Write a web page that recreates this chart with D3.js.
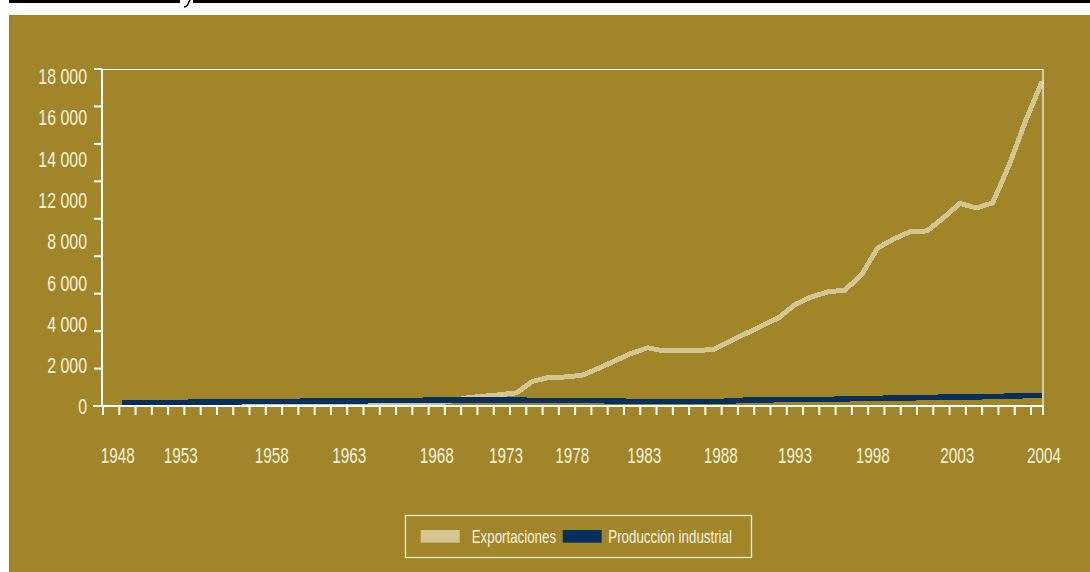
<!DOCTYPE html>
<html><head><meta charset="utf-8">
<script src="https://cdn.jsdelivr.net/npm/d3@7"></script>
<style>
html,body{margin:0;padding:0;background:#fff;}
svg{display:block;}
text{font-family:"Liberation Sans",Arial,sans-serif;fill:#f5f0de;}
</style></head><body>
<svg id="c" width="1090" height="572"></svg>
<script>
const years = [1948,1949,1950,1951,1952,1953,1954,1955,1956,1957,1958,1959,1960,1961,1962,1963,1964,1965,1966,1967,1968,1969,1970,1971,1972,1973,1974,1975,1976,1977,1978,1979,1980,1981,1982,1983,1984,1985,1986,1987,1988,1989,1990,1991,1992,1993,1994,1995,1996,1997,1998,1999,2000,2001,2002,2003,2004];
const exportaciones = [60,60,70,70,70,80,80,90,90,90,100,100,100,100,110,110,120,120,130,150,250,440,520,600,700,1320,1530,1550,1640,2010,2410,2810,3110,2940,2940,2960,3020,3460,3880,4300,4730,5440,5840,6100,6190,6990,8440,8930,9320,9350,10050,10820,10580,10850,12870,15220,17330];
const produccion = [160,170,180,190,200,215,220,225,230,235,245,255,265,270,275,280,285,290,300,320,330,325,320,315,310,305,300,300,295,290,260,250,245,245,245,245,250,255,320,330,335,340,345,350,380,400,410,420,430,460,470,480,490,500,530,550,570];
const yTickValues = [0,2000,4000,6000,8000,10000,12000,14000,16000,18000];
const yTickLabels = ["0","2 000","4 000","6 000","8 000","12 000","14 000","16 000","18 000"];
const xTickLabels = ["1948","1953","1958","1963","1968","1973","1978","1983","1988","1993","1998","2003","2004"];
const xLabelSlots = [0.96,4.83,10.42,15.19,20.56,24.82,28.89,33.3,38,42.57,47.34,52.54,57.86];
const seriesNames = ["Exportaciones","Producción industrial"];

const svg = d3.select("#c");
// header rule (clipped title above)
svg.append("rect").attr("x",9).attr("y",0).attr("width",171).attr("height",3).attr("fill","#000");
svg.append("rect").attr("x",193).attr("y",0).attr("width",897).attr("height",3).attr("fill","#000");
svg.append("path").attr("d","M190,0 L187.5,5 Q186.5,7 184,7").attr("fill","none").attr("stroke","#000").attr("stroke-width",1.6);
// panel
svg.append("rect").attr("x",9).attr("y",15).attr("width",1081).attr("height",557).attr("fill","#a08628");

const L=102, T=69, W=941, H=337;
const g = svg.append("g").attr("transform",`translate(${L},${T})`);
const x = d3.scaleLinear().domain([1948,2004]).range([20,940]);
const y = d3.scaleLinear().domain([0,18000]).range([H,0]);
const tickScale = d3.scaleLinear().domain([0,57.8]).range([0,W]);

const exp = years.map((yr,i)=>({yr, v:exportaciones[i]}));
const pro = years.map((yr,i)=>({yr, v:produccion[i]}));
const line = d3.line().x(d=>x(d.yr)).y(d=>y(d.v));

g.append("path").datum(exp).attr("d",line).attr("fill","none").attr("stroke","#d3c693").attr("stroke-width",5).attr("shape-rendering","crispEdges");
g.append("path").datum(pro).attr("d",line).attr("fill","none").attr("stroke","#062f5e").attr("stroke-width",5.5).attr("shape-rendering","crispEdges");

// frame
g.append("line").attr("x1",0).attr("x2",W).attr("y1",0.5).attr("y2",0.5).attr("stroke","#fff").attr("stroke-width",1.2);
g.append("line").attr("x1",W).attr("x2",W).attr("y1",0).attr("y2",H).attr("stroke","#fff").attr("stroke-width",1.2);
g.append("line").attr("x1",0).attr("x2",0).attr("y1",0).attr("y2",H+1).attr("stroke","#fff").attr("stroke-width",2);
g.append("line").attr("x1",-9).attr("x2",W).attr("y1",H).attr("y2",H).attr("stroke","#fff").attr("stroke-width",2);

// y ticks
g.selectAll(".yt").data(yTickValues).join("line").attr("x1",-8).attr("x2",0)
 .attr("y1",d=>y(d)).attr("y2",d=>y(d)).attr("stroke","#fff").attr("stroke-width",2);
// x ticks
const tickIdx = d3.range(58);
g.selectAll(".xt").data(tickIdx).join("line").attr("x1",d=>tickScale(d)+1).attr("x2",d=>tickScale(d)+1)
 .attr("y1",H).attr("y2",H+9).attr("stroke","#fff").attr("stroke-width",2);
g.append("line").attr("x1",W).attr("x2",W).attr("y1",H).attr("y2",H+9).attr("stroke","#fff").attr("stroke-width",2);

// y labels (evenly spread as in original)
const yLab = d3.scalePoint().domain(yTickLabels).range([H+1, 7.7]);
g.selectAll(".yl").data(yTickLabels).join("text")
 .attr("transform",d=>`translate(-15,${yLab(d)}) scale(0.74,1)`)
 .attr("text-anchor","end").attr("dominant-baseline","central").attr("font-size",21.5).text(d=>d);

// x labels
g.selectAll(".xl").data(xTickLabels).join("text")
 .attr("transform",(d,i)=>`translate(${tickScale(xLabelSlots[i])},${H+57}) scale(0.68,1)`)
 .attr("text-anchor","middle").attr("font-size",22.5).text(d=>d);

// legend
const lg = svg.append("g");
lg.append("rect").attr("x",405.5).attr("y",515.5).attr("width",346).attr("height",42).attr("fill","none").attr("stroke","#efe9cf").attr("stroke-width",1.3);
const colors = ["#d3c693","#062f5e"];
const swX = [420.7, 562.7], txX = [471.7, 608.3];
seriesNames.forEach((n,i)=>{
  lg.append("rect").attr("x",swX[i]).attr("y",530).attr("width",39).attr("height",12.7).attr("fill",colors[i]);
  lg.append("text").attr("transform",`translate(${txX[i]},543.3) scale(0.74,1)`).attr("font-size",18).text(n);
});
</script>
</body></html>
